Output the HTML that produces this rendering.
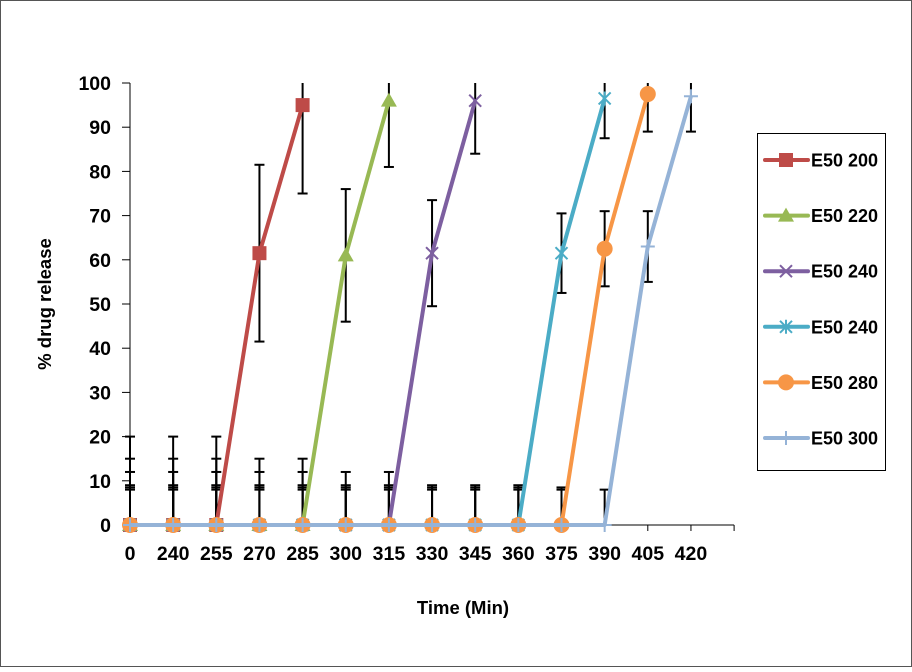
<!DOCTYPE html>
<html><head><meta charset="utf-8"><style>
body{margin:0;background:#fff}
svg text{font-family:"Liberation Sans",Arial,sans-serif;font-weight:bold}
</style></head><body>
<svg id="c" width="912" height="667" xmlns="http://www.w3.org/2000/svg">
<rect x="0.5" y="0.5" width="911" height="666" fill="#fff" stroke="#555"/>
</svg>
<script>
const categories=["0","240","255","270","285","300","315","330","345","360","375","390","405","420"];
const yTicks=[0,10,20,30,40,50,60,70,80,90,100];
const seriesNames=["E50 200","E50 220","E50 240","E50 240","E50 280","E50 300"];
const s1=[0,0,0,61.5,95,null,null,null,null,null,null,null,null,null];
const s2=[0,0,0,0,0,61,96,null,null,null,null,null,null,null];
const s3=[0,0,0,0,0,0,0,61.5,96,null,null,null,null,null];
const s4=[0,0,0,0,0,0,0,0,0,0,61.5,96.5,null,null];
const s5=[0,0,0,0,0,0,0,0,0,0,0,62.5,97.5,null];
const s6=[0,0,0,0,0,0,0,0,0,0,0,0,63,97];
const e1=[20,20,20,20,20];
const e2=[15,15,15,15,15,15,15];
const e3=[12,12,12,12,12,12,12,12,12];
const e4=[9,9,9,9,9,9,9,9,9,9,9,9];
const e5=[8.5,8.5,8.5,8.5,8.5,8.5,8.5,8.5,8.5,8.5,8.5,8.5,8.5];
const e6=[8,8,8,8,8,8,8,8,8,8,8,8,8,8];
const colors=["#be4b48","#98b954","#7d5fa0","#4bacc6","#f79646","#95b3d7"];
const markers=["square","triangle","x","star","circle","plus"];
const series=[s1,s2,s3,s4,s5,s6], errs=[e1,e2,e3,e4,e5,e6];

const svg=document.getElementById('c'), NS="http://www.w3.org/2000/svg";
const x0=130, dx=43.15, yb=525, yt=83;
const X=i=>x0+i*dx, Y=v=>yb-(v/100)*(yb-yt);
function el(t,a,p){const e=document.createElementNS(NS,t);for(const k in a)e.setAttribute(k,a[k]);(p||svg).appendChild(e);return e;}

const yAxis=el('line',{x1:x0,y1:yt,x2:x0,y2:yb,stroke:'#000','stroke-width':1});


yTicks.forEach(v=>{
  const tk=el('line',{x1:x0-8,y1:Y(v),x2:x0,y2:Y(v),stroke:'#000'});
  
  
  const t=el('text',{x:111,y:Y(v)+7,'text-anchor':'end','font-size':19.5});
  t.textContent=v;
  
  
});
const xAxis=el('line',{x1:x0,y1:yb,x2:X(categories.length),y2:yb,stroke:'#000'});


for(let i=0;i<=categories.length;i++){
  const tk=el('line',{x1:X(i),y1:yb,x2:X(i),y2:yb+6,stroke:'#000'});
  
  
}
categories.forEach((c,i)=>{
  const t=el('text',{x:X(i),y:yb+35,'text-anchor':'middle','font-size':19.5});
  t.textContent=c;
  
  
});
const yt1=el('text',{x:0,y:0,'text-anchor':'middle','font-size':18.5,transform:`translate(51,304) rotate(-90)`});
yt1.textContent="% drug release";


const xt=el('text',{x:463,y:614,'text-anchor':'middle','font-size':18.5});
xt.textContent="Time (Min)";



function marker(g,type,cx,cy,col){
  if(type==='square')el('rect',{x:cx-7,y:cy-7,width:14,height:14,fill:col},g);
  else if(type==='triangle')el('polygon',{points:`${cx},${cy-8} ${cx+8},${cy+6} ${cx-8},${cy+6}`,fill:col},g);
  else if(type==='circle')el('circle',{cx:cx,cy:cy,r:8,fill:col},g);
  else if(type==='x'){el('path',{d:`M${cx-6} ${cy-6}L${cx+6} ${cy+6}M${cx+6} ${cy-6}L${cx-6} ${cy+6}`,stroke:col,'stroke-width':2},g);}
  else if(type==='star'){el('path',{d:`M${cx-6} ${cy-6}L${cx+6} ${cy+6}M${cx+6} ${cy-6}L${cx-6} ${cy+6}M${cx} ${cy-7}V${cy+7}`,stroke:col,'stroke-width':2},g);}
  else if(type==='plus'){el('path',{d:`M${cx-7} ${cy}H${cx+7}M${cx} ${cy-7}V${cy+7}`,stroke:col,'stroke-width':2},g);}
}

const eg=el('g',{stroke:'#000','stroke-width':2});


series.forEach((s,k)=>{
  s.forEach((v,i)=>{
    if(v===null)return;
    const err=(errs[k][i]!==undefined)?errs[k][i]:[20,15,12,9,8.5,8][k];
    const hi=Math.min(100,v+err), lo=Math.max(0,v-err);
    const b=el('line',{x1:X(i),y1:Y(lo),x2:X(i),y2:Y(hi)},eg);
    
    
    if(v+err<=100)el('line',{x1:X(i)-5,y1:Y(hi),x2:X(i)+5,y2:Y(hi)},eg);
    if(v-err>=0)el('line',{x1:X(i)-5,y1:Y(lo),x2:X(i)+5,y2:Y(lo)},eg);
  });
});

series.forEach((s,k)=>{
  const g=el('g',{});
  
  
  const pts=[];s.forEach((v,i)=>{if(v!==null)pts.push(X(i)+','+Y(v));});
  el('polyline',{points:pts.join(' '),fill:'none',stroke:colors[k],'stroke-width':4,'stroke-linejoin':'round'},g);
  s.forEach((v,i)=>{if(v!==null)marker(g,markers[k],X(i),Y(v),colors[k]);});
});

const lg=el('g',{});


el('rect',{x:757.5,y:133.5,width:128,height:337,fill:'#fff',stroke:'#000'},lg);
seriesNames.forEach((n,k)=>{
  const y=160+k*55.6;
  const g=el('g',{},lg);
  
  
  el('line',{x1:765,y1:y,x2:808,y2:y,stroke:colors[k],'stroke-width':4,'stroke-linecap':'round'},g);
  marker(g,markers[k],786,y,colors[k]);
  const t=el('text',{x:811,y:y+6.5,'font-size':18},g);
  t.textContent=n;
});
</script>
</body></html>
